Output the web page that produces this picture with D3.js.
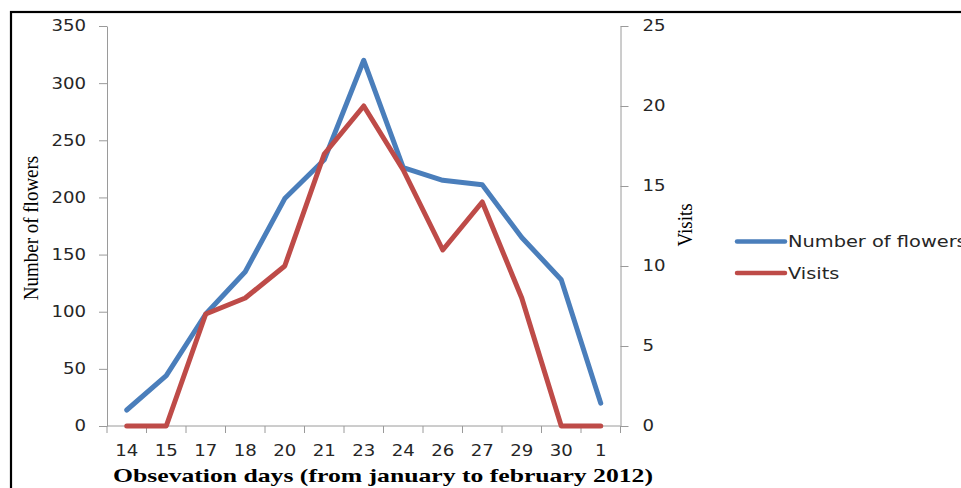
<!DOCTYPE html>
<html>
<head>
<meta charset="utf-8">
<script src="https://cdn.jsdelivr.net/npm/d3@7"></script>
<style>
  html, body { margin: 0; padding: 0; background: #fff; }
  svg { display: block; }
</style>
</head>
<body>
<svg id="chart" width="961" height="488"></svg>
<script>
// Observation days (14 Jan .. 1 Feb 2012)
const days = ["14", "15", "17", "18", "20", "21", "23", "24", "26", "27", "29", "30", "1"];
// Number of open flowers per day (left axis)
const flowers = [14, 44, 98, 135, 199, 233, 320, 226, 215, 211, 165, 128, 20];
// Pollinator visits per day (right axis)
const visits = [0, 0, 7, 8, 10, 17, 20, 16, 11, 14, 8, 0, 0];

const leftTicks = [0, 50, 100, 150, 200, 250, 300, 350];
const rightTicks = [0, 5, 10, 15, 20, 25];

const seriesNames = ["Number of flowers", "Visits"];
const seriesColors = ["#4a7ebb", "#be4b48"];

const svg = d3.select("#chart");
const sansFont = "'DejaVu Sans', Verdana, sans-serif";
const serifFont = "'Liberation Serif', 'Times New Roman', serif";
const axisColor = "#9a9a9a";
const textColor = "#262626";
const stretch = 1.17;

// widen plain text horizontally by a constant factor
function widen(sel, k) {
  sel.each(function () {
    const len = this.getComputedTextLength();
    d3.select(this).attr("textLength", len * k).attr("lengthAdjust", "spacingAndGlyphs");
  });
}

// outer frame
svg.append("rect")
  .attr("x", 11).attr("y", 12)
  .attr("width", 1200).attr("height", 1200)
  .attr("fill", "none").attr("stroke", "#000").attr("stroke-width", 2.2);

const plotLeft = 107, plotRight = 620.5, plotTop = 26, plotBottom = 426;

const x = d3.scaleBand().domain(days).range([plotLeft, plotRight]).padding(0);
const yL = d3.scaleLinear().domain([0, 350]).range([plotBottom, plotTop]);
const yR = d3.scaleLinear().domain([0, 25]).range([plotBottom, plotTop]);
const cx = d => x(d) + x.bandwidth() / 2;

// left axis
const gL = svg.append("g").attr("transform", `translate(${plotLeft},0)`)
  .call(d3.axisLeft(yL).tickValues(leftTicks).tickSize(8).tickPadding(13).tickSizeOuter(0));
// right axis
const gR = svg.append("g").attr("transform", `translate(${plotRight},0)`)
  .call(d3.axisRight(yR).tickValues(rightTicks).tickSize(8).tickPadding(14).tickSizeOuter(0));
// bottom axis labels centred in each category
const gB = svg.append("g").attr("transform", `translate(0,${plotBottom})`)
  .call(d3.axisBottom(x).tickSize(0).tickPadding(19));
gB.select(".domain").remove();

// category boundary ticks on the bottom axis
const boundaries = days.map(d => x(d)).concat([x.range()[1]]);
svg.append("g").selectAll("line").data(boundaries).join("line")
  .attr("x1", d => d).attr("x2", d => d)
  .attr("y1", plotBottom).attr("y2", plotBottom + 7)
  .attr("stroke", axisColor).attr("stroke-width", 1);
svg.append("line")
  .attr("x1", plotLeft).attr("x2", plotRight)
  .attr("y1", plotBottom).attr("y2", plotBottom)
  .attr("stroke", axisColor).attr("stroke-width", 1);

[gL, gR, gB].forEach(g => {
  g.selectAll(".domain").attr("stroke", axisColor);
  g.selectAll(".tick line").attr("stroke", axisColor);
  g.selectAll("text")
    .attr("font-family", sansFont).attr("font-size", 15.5)
    .attr("fill", textColor);
  widen(g.selectAll("text"), stretch);
});

// series lines
const line = (yScale) => d3.line().x((d, i) => cx(days[i])).y(d => yScale(d));
svg.append("path").datum(flowers)
  .attr("d", line(yL))
  .attr("fill", "none").attr("stroke", seriesColors[0])
  .attr("stroke-width", 5).attr("stroke-linejoin", "round").attr("stroke-linecap", "round");
svg.append("path").datum(visits)
  .attr("d", line(yR))
  .attr("fill", "none").attr("stroke", seriesColors[1])
  .attr("stroke-width", 5).attr("stroke-linejoin", "round").attr("stroke-linecap", "round");

// axis titles
svg.append("text")
  .attr("transform", "translate(38,228) rotate(-90) scale(1,1.12)")
  .attr("text-anchor", "middle")
  .attr("font-family", serifFont).attr("font-size", 19).attr("fill", "#000")
  .text("Number of flowers");

svg.append("text")
  .attr("transform", "translate(692,225) rotate(-90) scale(1,1.12)")
  .attr("text-anchor", "middle")
  .attr("font-family", serifFont).attr("font-size", 19).attr("fill", "#000")
  .text("Visits");

svg.append("text")
  .attr("x", 383).attr("y", 482)
  .attr("text-anchor", "middle")
  .attr("font-family", serifFont).attr("font-size", 19.5).attr("font-weight", "bold")
  .attr("fill", "#000")
  .attr("textLength", 540).attr("lengthAdjust", "spacingAndGlyphs")
  .text("Obsevation days (from january to february 2012)");

// legend
const legend = svg.append("g");
const legendRows = legend.selectAll("g").data(seriesNames).join("g")
  .attr("transform", (d, i) => `translate(737,${241.5 + i * 31.5})`);
legendRows.append("line")
  .attr("x1", 0).attr("x2", 48).attr("y1", 0).attr("y2", 0)
  .attr("stroke", (d, i) => seriesColors[i]).attr("stroke-width", 4.5)
  .attr("stroke-linecap", "round");
const legendText = legendRows.append("text")
  .attr("x", 51).attr("y", 5.5)
  .attr("font-family", sansFont).attr("font-size", 15.5).attr("fill", textColor)
  .text(d => d);
widen(legendText, 1.25);
</script>
</body>
</html>
